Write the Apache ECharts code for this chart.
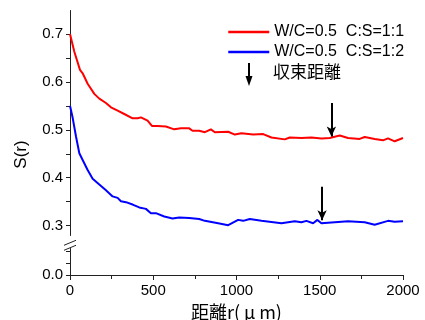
<!DOCTYPE html>
<html>
<head>
<meta charset="utf-8">
<script src="https://cdn.jsdelivr.net/npm/echarts@6/dist/echarts.min.js"></script>
<style>
  html, body { margin: 0; padding: 0; background: #fff; }
  #chart { width: 425px; height: 320px; }
</style>
</head>
<body>
<div id="chart"></div>
<script>
// C:S=1:1
const redR = [0, 26, 60, 76, 106, 146, 176, 216, 246, 286, 326, 376, 406, 426, 466, 492, 526, 576, 626, 666, 716, 736, 776, 810, 846, 870, 950, 990, 1030, 1100, 1160, 1210, 1290, 1320, 1390, 1450, 1510, 1560, 1620, 1670, 1740, 1770, 1830, 1880, 1910, 1950, 2000]
const redS = [0.700, 0.663, 0.625, 0.618, 0.596, 0.575, 0.565, 0.556, 0.547, 0.540, 0.533, 0.524, 0.524, 0.526, 0.519, 0.508, 0.508, 0.507, 0.501, 0.503, 0.503, 0.498, 0.498, 0.495, 0.501, 0.495, 0.496, 0.490, 0.493, 0.490, 0.491, 0.484, 0.480, 0.484, 0.483, 0.484, 0.482, 0.483, 0.488, 0.483, 0.481, 0.485, 0.481, 0.478, 0.482, 0.476, 0.483]
// C:S=1:2
const blueR = [0, 16, 36, 56, 76, 106, 136, 176, 216, 256, 286, 306, 336, 376, 416, 456, 486, 516, 566, 616, 656, 716, 776, 810, 890, 950, 1010, 1040, 1080, 1150, 1270, 1350, 1390, 1420, 1460, 1486, 1510, 1590, 1670, 1770, 1830, 1910, 1950, 2000]
const blueS = [0.550, 0.525, 0.486, 0.451, 0.437, 0.416, 0.398, 0.386, 0.374, 0.361, 0.358, 0.351, 0.349, 0.344, 0.338, 0.335, 0.326, 0.326, 0.319, 0.315, 0.317, 0.316, 0.314, 0.310, 0.305, 0.301, 0.312, 0.310, 0.314, 0.310, 0.305, 0.309, 0.307, 0.310, 0.305, 0.312, 0.305, 0.307, 0.309, 0.307, 0.302, 0.310, 0.308, 0.309]

const seriesNames = ['W/C=0.5  C:S=1:1', 'W/C=0.5  C:S=1:2']
const yLabelValues = [0, 0.3, 0.4, 0.5, 0.6, 0.7]
const yTickValues = [0, 0.025, 0.05, 0.3, 0.35, 0.4, 0.45, 0.5, 0.55, 0.6, 0.65, 0.7]
// 収束距離 arrows: [r, from, to]
const redArrow = [1570, 0.556, 0.486]
const blueArrow = [1514, 0.381, 0.311]
const yBreak = [0.055, 0.28]

const toPairs = (xs, ys) => xs.map((x, i) => [x, ys[i]])
const arrowLine = a => ({
  silent: true,
  symbol: ['none', 'arrow'],
  symbolSize: [7, 10],
  label: { show: false },
  lineStyle: { color: '#000', width: 2, type: 'solid' },
  data: [[{ coord: [a[0], a[1]] }, { coord: [a[0], a[2]] }]]
})

const font = 'Liberation Sans, Arial, sans-serif'
const axisColor = '#222'

const chart = echarts.init(document.getElementById('chart'), null, { renderer: 'canvas' })
const option = {
  animation: false,
  grid: { left: 70, right: 22, top: 10, bottom: 45, outerBoundsMode: 'none' },
  legend: {
    orient: 'vertical',
    left: 227,
    top: 24,
    padding: 0,
    itemWidth: 41,
    itemHeight: 16,
    itemGap: 4,
    itemStyle: { opacity: 0 },
    lineStyle: { width: 2.5 },
    textStyle: { fontFamily: font, fontSize: 16, color: '#000' },
    data: seriesNames
  },
  xAxis: {
    type: 'value',
    min: 0,
    max: 2000,
    interval: 500,
    name: '距離r({mu|μ}m)',
    nameLocation: 'middle',
    nameGap: 24,
    nameTextStyle: {
      fontFamily: 'Noto Sans CJK JP',
      fontSize: 18,
      color: '#000',
      rich: { mu: { fontFamily: 'Noto Sans CJK JP', fontSize: 18, color: '#000', width: 19, align: 'center' } }
    },
    axisLine: { lineStyle: { color: axisColor, width: 1 } },
    axisTick: { length: 5, lineStyle: { color: axisColor } },
    minorTick: { show: true, splitNumber: 2, length: 4, lineStyle: { color: axisColor } },
    axisLabel: { fontFamily: font, fontSize: 15, color: '#000', margin: 8, formatter: v => String(v) },
    splitLine: { show: false }
  },
  yAxis: {
    type: 'value',
    min: 0,
    max: 0.75,
    interval: 0.1,
    breaks: [{ start: yBreak[0], end: yBreak[1], gap: 0.028 }],
    breakArea: { show: false },
    name: 'S(r)',
    nameLocation: 'middle',
    nameGap: 40,
    nameRotate: 90,
    nameTextStyle: { fontFamily: font, fontSize: 17, color: '#000', padding: [0, 24, 0, 0] },
    axisLine: { show: true, lineStyle: { color: axisColor, width: 1 } },
    axisTick: { length: 4, customValues: yTickValues, lineStyle: { color: axisColor } },
    axisLabel: {
      fontFamily: font,
      fontSize: 15,
      color: '#000',
      margin: 7,
      customValues: yLabelValues,
      formatter: v => v.toFixed(1)
    },
    splitLine: { show: false }
  },
  series: [
    {
      name: seriesNames[0],
      type: 'line',
      symbol: 'none',
      data: toPairs(redR, redS),
      lineStyle: { color: '#ff0000', width: 2 },
      itemStyle: { color: '#ff0000' },
      markLine: arrowLine(redArrow)
    },
    {
      name: seriesNames[1],
      type: 'line',
      symbol: 'none',
      data: toPairs(blueR, blueS),
      lineStyle: { color: '#0000ff', width: 2 },
      itemStyle: { color: '#0000ff' },
      markLine: arrowLine(blueArrow)
    }
  ]
}
chart.setOption(option)

// axis break slashes and the 収束距離 key
const ax = chart.convertToPixel({ xAxisIndex: 0 }, 0)
const yLo = chart.convertToPixel({ yAxisIndex: 0 }, yBreak[0])
const yHi = chart.convertToPixel({ yAxisIndex: 0 }, yBreak[1])
const yb = yLo + (yHi - yLo) * 0.25
const slash = dy => ({ type: 'line', shape: { x1: ax - 6, y1: yb + dy + 2.5, x2: ax + 6, y2: yb + dy - 2.5 }, style: { stroke: axisColor, lineWidth: 1 } })
chart.setOption({
  graphic: [
    { type: 'rect', shape: { x: ax - 2, y: yb - 2, width: 4, height: 4 }, style: { fill: '#fff' } },
    slash(-2.5),
    slash(2.5),
    { type: 'line', shape: { x1: 249, y1: 63, x2: 249, y2: 78 }, style: { stroke: '#000', lineWidth: 2 } },
    { type: 'polygon', shape: { points: [[245.5, 76], [252.5, 76], [249, 86]] }, style: { fill: '#000' } },
    { type: 'text', x: 273, y: 72, style: { text: '収束距離', font: '17px "Noto Sans CJK JP"', fill: '#000', verticalAlign: 'middle' } }
  ]
})
</script>
</body>
</html>
